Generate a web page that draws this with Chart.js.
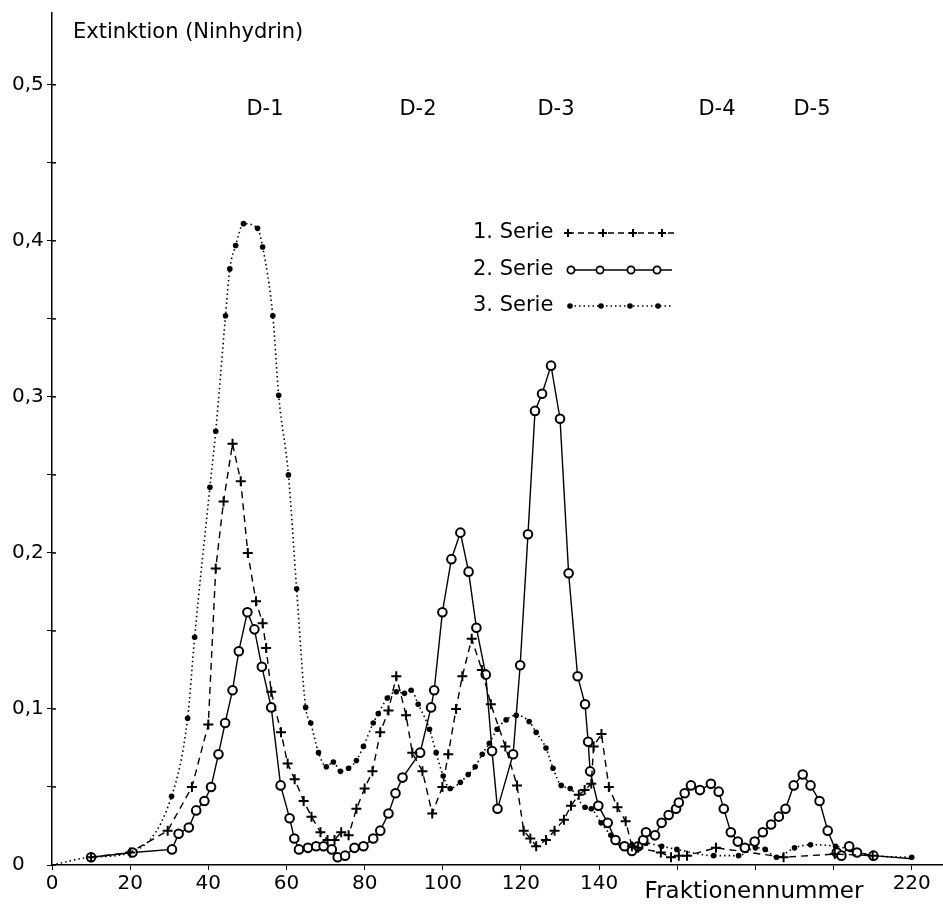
<!DOCTYPE html>
<html>
<head>
<meta charset="utf-8">
<script src="https://cdn.jsdelivr.net/npm/chart.js@4"></script>
<style>
  html, body { margin: 0; padding: 0; background: #fff; }
  canvas { display: block; }
</style>
</head>
<body>
<canvas id="chart" width="943" height="906"></canvas>
<script>
// Fraktionennummer / Extinktion je Serie
const serie1X = [10, 20, 29.6, 35.8, 40, 41.9, 43.9, 46.2, 48.3, 50.1, 52.2, 53.9, 54.8, 56.1, 58.6, 60.3, 62.1, 64.4, 66.4, 68.7, 70.5, 72.3, 74, 75.9, 77.9, 80, 82, 84, 86.1, 88.1, 90.6, 92.2, 94.8, 97.3, 99.9, 101.4, 103.4, 105, 107.4, 110, 112.3, 116, 119, 120.7, 122.4, 123.9, 126.4, 128.6, 131, 132.8, 134.8, 136.3, 138, 138.6, 140.6, 142.5, 144.7, 146.8, 148.4, 150, 155.8, 158.4, 160.4, 162.5, 169.9, 187.2, 200.3, 210];
const serie1Y = [0.005, 0.008, 0.022, 0.050, 0.090, 0.190, 0.233, 0.270, 0.246, 0.200, 0.169, 0.155, 0.139, 0.111, 0.085, 0.065, 0.055, 0.041, 0.031, 0.021, 0.016, 0.016, 0.021, 0.019, 0.036, 0.049, 0.060, 0.085, 0.099, 0.121, 0.096, 0.072, 0.060, 0.033, 0.050, 0.071, 0.100, 0.121, 0.145, 0.125, 0.103, 0.076, 0.051, 0.022, 0.017, 0.012, 0.016, 0.022, 0.029, 0.038, 0.045, 0.048, 0.052, 0.076, 0.084, 0.050, 0.037, 0.028, 0.012, 0.011, 0.008, 0.005, 0.006, 0.006, 0.011, 0.005, 0.007, 0.006];

const serie2X = [10, 20.6, 30.7, 32.4, 35, 36.9, 39, 40.7, 42.6, 44.3, 46.2, 47.8, 50, 51.8, 53.7, 56.1, 58.5, 60.8, 62, 63.2, 65.5, 67.6, 69.5, 71.6, 73.1, 75, 77.4, 79.7, 82.2, 84, 86.1, 87.9, 89.7, 94.2, 97, 97.8, 99.9, 102.2, 104.5, 106.6, 108.6, 111, 112.6, 114, 118, 119.8, 121.8, 123.6, 125.4, 127.7, 130, 132.2, 134.5, 136.4, 137.2, 137.7, 139.8, 142.2, 144.2, 146.5, 148.4, 150, 151.3, 152, 154.3, 156, 157.8, 159.7, 160.4, 161.9, 163.5, 165.8, 168.6, 170.6, 171.9, 173.7, 175.5, 177.3, 179.8, 181.9, 184, 186, 187.7, 189.8, 192.1, 194.1, 196.4, 198.5, 200.8, 202, 204, 206, 210.2, 220];
const serie2Y = [0.005, 0.008, 0.010, 0.020, 0.024, 0.035, 0.041, 0.050, 0.071, 0.091, 0.112, 0.137, 0.162, 0.151, 0.127, 0.101, 0.051, 0.030, 0.017, 0.010, 0.011, 0.012, 0.012, 0.010, 0.005, 0.006, 0.011, 0.012, 0.017, 0.022, 0.033, 0.046, 0.056, 0.072, 0.101, 0.112, 0.162, 0.196, 0.213, 0.188, 0.152, 0.122, 0.073, 0.036, 0.071, 0.128, 0.212, 0.291, 0.302, 0.320, 0.286, 0.187, 0.121, 0.103, 0.079, 0.060, 0.038, 0.027, 0.016, 0.012, 0.009, 0.012, 0.016, 0.021, 0.019, 0.027, 0.032, 0.036, 0.040, 0.046, 0.051, 0.048, 0.052, 0.047, 0.036, 0.021, 0.015, 0.011, 0.015, 0.021, 0.026, 0.031, 0.036, 0.051, 0.058, 0.051, 0.041, 0.022, 0.008, 0.006, 0.012, 0.008, 0.006, 0.004];

const serie3X = [0, 10, 20, 30.6, 34.7, 36.5, 40.4, 41.9, 44.4, 45.5, 47, 49, 52.6, 53.9, 56.5, 58, 60.5, 62.6, 64.9, 66.2, 68.2, 70.2, 72, 73.8, 75.9, 77.9, 79.7, 82.2, 83.5, 85.8, 88.1, 90.2, 91.9, 93.7, 96.6, 98.3, 100.1, 101.9, 104.5, 106.5, 108.3, 110.1, 111.9, 113.9, 116.2, 118.8, 122.1, 123.9, 126.4, 128.2, 130.3, 132.6, 136.4, 138, 140.5, 143, 145.8, 148.4, 152, 156, 159.9, 169.3, 175.7, 180, 182.5, 185.4, 190, 194.1, 200.5, 204.3, 210.2, 220];
const serie3Y = [0, 0.005, 0.008, 0.044, 0.094, 0.146, 0.242, 0.278, 0.352, 0.382, 0.397, 0.411, 0.408, 0.396, 0.352, 0.301, 0.250, 0.177, 0.101, 0.091, 0.072, 0.063, 0.066, 0.060, 0.062, 0.067, 0.076, 0.091, 0.097, 0.107, 0.111, 0.110, 0.112, 0.103, 0.087, 0.072, 0.057, 0.049, 0.053, 0.058, 0.063, 0.071, 0.078, 0.087, 0.093, 0.096, 0.092, 0.085, 0.075, 0.062, 0.051, 0.049, 0.037, 0.036, 0.027, 0.019, 0.012, 0.013, 0.014, 0.012, 0.010, 0.006, 0.006, 0.011, 0.010, 0.005, 0.011, 0.013, 0.012, 0.010, 0.006, 0.005];

const xTickValues = [0, 20, 40, 60, 80, 100, 120, 140, 160, 180, 200, 220];
const xTickLabels = ['0', '20', '40', '60', '80', '100', '120', '140', '', '', '', '220'];
const yTickValues = [0, 0.05, 0.1, 0.15, 0.2, 0.25, 0.3, 0.35, 0.4, 0.45, 0.5];
const yTickLabels = ['0', '', '0,1', '', '0,2', '', '0,3', '', '0,4', '', '0,5'];

const seriesNames = ['1. Serie', '2. Serie', '3. Serie'];
const peakNames = ['D-1', 'D-2', 'D-3', 'D-4', 'D-5'];

const FONT = '"DejaVu Sans", sans-serif';

function toPoints(xs, ys) {
  return xs.map((x, i) => ({ x: x, y: ys[i] }));
}

// Beschriftungen, Legende und Achsenstriche nach innen
const textPlugin = {
  id: 'textLayer',
  afterDraw: (chart) => {
    const ctx = chart.ctx;
    const { left } = chart.chartArea;
    const ys = chart.scales.y;
    ctx.save();
    ctx.fillStyle = '#000';
    ctx.strokeStyle = '#000';
    ctx.textBaseline = 'middle';

    // kurze Striche rechts der y-Achse
    ctx.lineWidth = 1.5;
    yTickValues.forEach(v => {
      const py = ys.getPixelForValue(v);
      ctx.beginPath(); ctx.moveTo(left, py); ctx.lineTo(left + 4, py); ctx.stroke();
    });

    ctx.font = '21px ' + FONT;
    ctx.textAlign = 'left';
    ctx.fillText('Extinktion (Ninhydrin)', 73, 33);

    ctx.font = '21px ' + FONT;
    ctx.textAlign = 'center';
    const peakPx = [265, 418, 556, 717, 812];
    peakNames.forEach((n, i) => ctx.fillText(n, peakPx[i], 110));

    ctx.font = '23px ' + FONT;
    ctx.fillText('Fraktionennummer', 754, 892);

    // Legende
    ctx.font = '21px ' + FONT;
    ctx.textAlign = 'left';
    const rows = [233, 270, 306];
    seriesNames.forEach((n, i) => ctx.fillText(n, 473, rows[i]));

    // 1. Serie
    ctx.lineWidth = 1.3;
    ctx.setLineDash([6, 4]);
    ctx.beginPath(); ctx.moveTo(568, rows[0]); ctx.lineTo(675, rows[0]); ctx.stroke();
    ctx.setLineDash([]);
    ctx.lineWidth = 2;
    [568, 603, 633, 662].forEach(x => {
      ctx.beginPath();
      ctx.moveTo(x - 4, rows[0]); ctx.lineTo(x + 4, rows[0]);
      ctx.moveTo(x, rows[0] - 4); ctx.lineTo(x, rows[0] + 4);
      ctx.stroke();
    });
    // 2. Serie
    ctx.lineWidth = 1.3;
    ctx.beginPath(); ctx.moveTo(571, rows[1]); ctx.lineTo(672, rows[1]); ctx.stroke();
    ctx.lineWidth = 1.8;
    [571, 600, 631, 657].forEach(x => {
      ctx.beginPath(); ctx.arc(x, rows[1], 3.6, 0, Math.PI * 2);
      ctx.fillStyle = '#fff'; ctx.fill(); ctx.stroke();
    });
    // 3. Serie
    ctx.fillStyle = '#000';
    ctx.lineWidth = 1.5;
    ctx.setLineDash([1.5, 3]);
    ctx.beginPath(); ctx.moveTo(570, rows[2]); ctx.lineTo(672, rows[2]); ctx.stroke();
    ctx.setLineDash([]);
    [570, 601, 630, 658].forEach(x => {
      ctx.beginPath(); ctx.arc(x, rows[2], 2.8, 0, Math.PI * 2); ctx.fill();
    });

    ctx.restore();
  }
};

new Chart(document.getElementById('chart').getContext('2d'), {
  type: 'line',
  data: {
    datasets: [
      {
        label: seriesNames[0],
        data: toPoints(serie1X, serie1Y),
        borderColor: '#000',
        borderWidth: 1.4,
        borderDash: [7, 5],
        pointStyle: 'cross',
        pointRadius: 5,
        pointBorderWidth: 2,
        pointBorderColor: '#000',
        tension: 0
      },
      {
        label: seriesNames[1],
        data: toPoints(serie2X, serie2Y),
        borderColor: '#000',
        borderWidth: 1.4,
        pointStyle: 'circle',
        pointRadius: (c) => (c.raw && c.raw.x === 220 ? 0 : 4.3),
        pointBorderWidth: 2,
        pointBorderColor: '#000',
        pointBackgroundColor: '#fff',
        tension: 0
      },
      {
        label: seriesNames[2],
        data: toPoints(serie3X, serie3Y),
        borderColor: '#000',
        borderWidth: 1.6,
        borderDash: [1.5, 3],
        pointStyle: 'circle',
        pointRadius: (c) => (c.raw && c.raw.x === 0 ? 0 : 2.8),
        pointBorderWidth: 0,
        pointBackgroundColor: '#000',
        cubicInterpolationMode: 'monotone'
      }
    ]
  },
  options: {
    responsive: false,
    devicePixelRatio: 1,
    animation: false,
    layout: { autoPadding: false, padding: { left: 12, top: 13, right: 0, bottom: 0 } },
    plugins: {
      legend: { display: false },
      tooltip: { enabled: false }
    },
    scales: {
      x: {
        type: 'linear',
        min: 0,
        max: 228,
        afterBuildTicks: (scale) => { scale.ticks = xTickValues.map(v => ({ value: v })); },
        afterFit: (scale) => {
          scale.height = 41;
          scale.paddingLeft = 0;
          scale.paddingRight = 0;
        },
        border: { display: true, color: '#000', width: 1.5 },
        grid: { drawOnChartArea: false, drawTicks: true, tickLength: 5, color: '#000' },
        ticks: {
          color: '#000',
          font: { family: FONT, size: 20 },
          padding: 2,
          maxRotation: 0,
          autoSkip: false,
          callback: (v, i) => xTickLabels[i]
        }
      },
      y: {
        type: 'linear',
        min: 0,
        max: 0.546,
        afterBuildTicks: (scale) => { scale.ticks = yTickValues.map(v => ({ value: v })); },
        afterFit: (scale) => {
          scale.width = 40;
          scale.paddingTop = 0;
          scale.paddingBottom = 0;
        },
        border: { display: true, color: '#000', width: 1.5 },
        grid: { drawOnChartArea: false, drawTicks: true, tickLength: 5, color: '#000' },
        ticks: {
          color: '#000',
          font: { family: FONT, size: 20 },
          crossAlign: 'far',
          autoSkip: false,
          callback: (v, i) => yTickLabels[i]
        }
      }
    }
  },
  plugins: [textPlugin]
});
</script>
</body>
</html>
